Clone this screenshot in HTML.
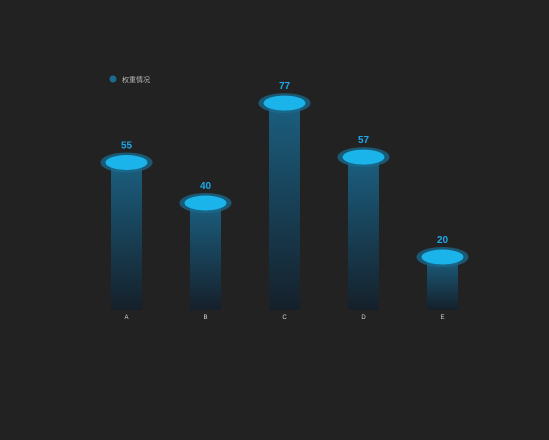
<!DOCTYPE html>
<html><head><meta charset="utf-8"><style>
html,body{margin:0;padding:0;background:#222222;}
svg{display:block;font-family:"Liberation Sans","Noto Sans CJK SC",sans-serif;}
</style></head><body>
<svg id="chart" width="549" height="440">
<defs>
<linearGradient id="bg" x1="0" y1="0" x2="0" y2="1">
<stop offset="0" stop-color="#1b5f80"/><stop offset="1" stop-color="#15202a"/>
</linearGradient>
</defs>
<g>
<circle cx="113" cy="79" r="3.5" fill="#1a6b8f"/>
<text x="122" y="82" font-size="7" fill="#bbbbbb">权重情况</text>
</g>
<g id="bars"></g>
</svg>
<script>
const categories=["A","B","C","D","E"];
const values=[55,40,77,57,20];
const yMax=100;
const plotTop=40,plotBottom=310,left=87,right=482;
function x(i){const bw=(right-left)/categories.length;return left+bw*(i+0.5);}
function y(v){return plotBottom-(v/yMax)*(plotBottom-plotTop);}
const g=document.getElementById('bars');
const NS="http://www.w3.org/2000/svg";
function mk(t,a){const e=document.createElementNS(NS,t);for(const k in a)e.setAttribute(k,a[k]);return e;}
categories.forEach((c,i)=>{
  const cx=x(i),ty=y(values[i])+1;
  const r=mk('rect',{x:cx-15.5,y:ty,width:31,height:plotBottom-ty,fill:'url(#bg)'});
  
  
  g.appendChild(r);
  const o=mk('ellipse',{cx:cx,cy:ty,rx:26,ry:10,fill:'#1a6b8f',opacity:0.75});
  
  
  g.appendChild(o);
  const inr=mk('ellipse',{cx:cx,cy:ty,rx:21,ry:7.5,fill:'#1ab4ea'});
  
  
  g.appendChild(inr);
  const t=mk('text',{x:cx,y:ty-14,'text-anchor':'middle','font-size':10,'font-weight':'bold',fill:'#1ea8ea'});
  t.textContent=values[i];
  
  
  g.appendChild(t);
  const l=mk('text',{x:cx,y:319,'text-anchor':'middle','font-size':6,fill:'#dddddd'});
  l.textContent=c;
  
  
  g.appendChild(l);
});
</script>
</body></html>
